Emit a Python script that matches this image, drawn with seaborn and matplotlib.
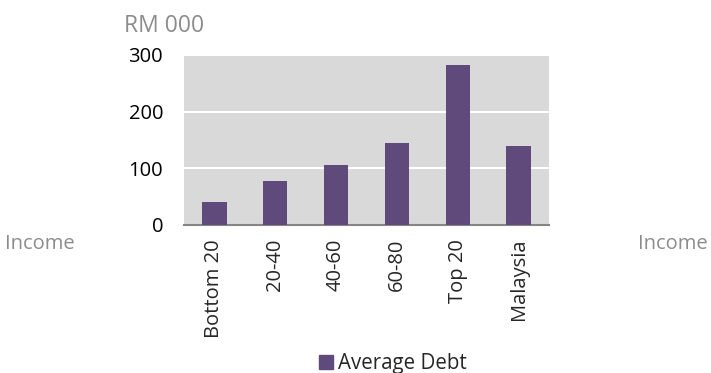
import numpy as np
import pandas as pd
import matplotlib
matplotlib.use("Agg")
import matplotlib.pyplot as plt
import seaborn as sns
from matplotlib.patches import Patch

# Data
groups = ["Bottom 20", "20-40", "40-60", "60-80", "Top 20", "Malaysia"]
avg_debt = [41, 77, 105, 144, 283, 139]

df = pd.DataFrame({"group": groups, "debt": avg_debt})

sns.set_style("white")
plt.rcParams["font.family"] = ["Open Sans", "DejaVu Sans"]

bar_color = "#604a7b"
grey_text = "#8c8c8c"

fig = plt.figure(figsize=(7.11, 3.73), dpi=100)
ax = fig.add_axes([184 / 711, 1 - 225 / 373, 365 / 711, 170 / 373])
ax.set_facecolor("#d9d9d9")

sns.barplot(data=df, x="group", y="debt", color=bar_color, width=0.4,
            saturation=1, linewidth=0, ax=ax, zorder=3)

ax.set_ylim(0, 300)
ax.set_xlim(-0.5, len(groups) - 0.5)
ax.set_yticks([0, 100, 200, 300])
ax.yaxis.grid(True, color="white", linewidth=1.5, zorder=0)
ax.set_axisbelow(True)
ax.tick_params(axis="y", length=0, labelsize=14.5, pad=15, colors="black")
ax.set_xticks(range(len(groups)))
ax.set_xticklabels(groups, rotation=90, fontsize=14.5)
ax.tick_params(axis="x", which="major", length=0, pad=10)
ax.set_xticks(np.arange(-0.5, len(groups), 1), minor=True)
ax.tick_params(axis="x", which="minor", length=7, width=1.2, color="#868686")
ax.set_xlabel("")
ax.set_ylabel("")

for side in ["left", "right", "top"]:
    ax.spines[side].set_visible(False)
ax.spines["bottom"].set_color("#868686")
ax.spines["bottom"].set_linewidth(1.5)

fig.text(124 / 711, 1 - 26 / 373, "RM 000", color=grey_text, fontsize=16.5,
         va="center", ha="left")
fig.text(5 / 711, 1 - 244 / 373, "Income", color=grey_text, fontsize=14.5,
         va="center", ha="left")
fig.text(708 / 711, 1 - 244 / 373, "Income", color=grey_text, fontsize=14.5,
         va="center", ha="right")

fig.legend(handles=[Patch(color=bar_color, label="Average Debt")],
           loc="center", bbox_to_anchor=(393 / 711, 1 - 364 / 373),
           frameon=False, fontsize=14.8, handlelength=0.65, handleheight=0.65,
           handletextpad=0.25)

fig.savefig("out.png", dpi=100)
